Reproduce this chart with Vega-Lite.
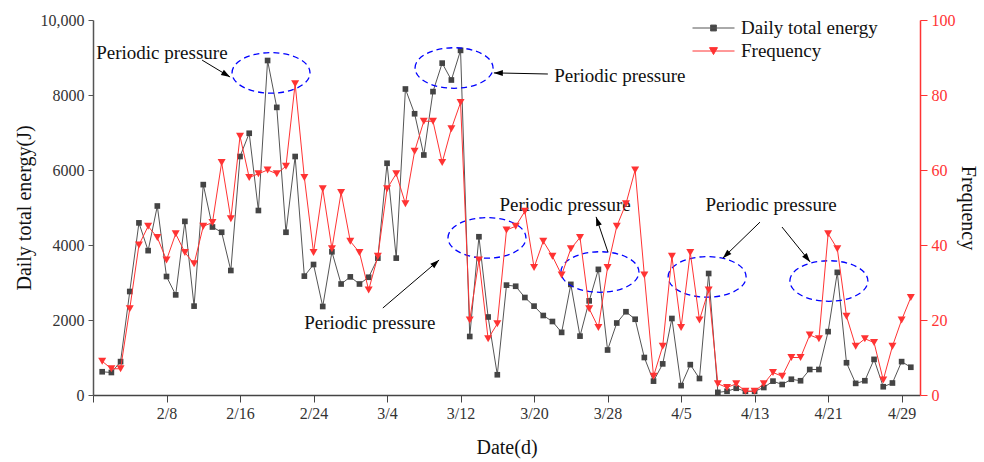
{
"$schema":"https://vega.github.io/schema/vega-lite/v6.json",
"width":827,"height":375,
"autosize":"none",
"padding":{"left":93,"top":20,"right":64,"bottom":67},
"background":"white",
"config":{"view":{"stroke":null},"font":"Liberation Serif",
 "axis":{"grid":false,"labelFont":"Liberation Serif","titleFont":"Liberation Serif","titleFontWeight":"normal","labelFontSize":16,"titleFontSize":20,"labelOverlap":false},
 "legend":{"labelFont":"Liberation Serif","orient":"none","legendX":599,"legendY":-3.5,"title":null,"padding":0,"labelFontSize":19,"labelColor":"#111111","symbolSize":1764,"clipHeight":23,"rowPadding":0,"labelOffset":6,"symbolStrokeWidth":1}},
"datasets":{
"main":[
{"d":"2021-02-01T00:00:00","e":620,"f":9},{"d":"2021-02-02T00:00:00","e":600,"f":7},{"d":"2021-02-03T00:00:00","e":890,"f":7},{"d":"2021-02-04T00:00:00","e":2760,"f":23},{"d":"2021-02-05T00:00:00","e":4590,"f":40},{"d":"2021-02-06T00:00:00","e":3850,"f":45},{"d":"2021-02-07T00:00:00","e":5040,"f":42},{"d":"2021-02-08T00:00:00","e":3160,"f":36},{"d":"2021-02-09T00:00:00","e":2670,"f":43},{"d":"2021-02-10T00:00:00","e":4630,"f":38},{"d":"2021-02-11T00:00:00","e":2370,"f":35},{"d":"2021-02-12T00:00:00","e":5610,"f":45},{"d":"2021-02-13T00:00:00","e":4480,"f":46},{"d":"2021-02-14T00:00:00","e":4340,"f":62},{"d":"2021-02-15T00:00:00","e":3320,"f":47},{"d":"2021-02-16T00:00:00","e":6360,"f":69},{"d":"2021-02-17T00:00:00","e":6980,"f":58},{"d":"2021-02-18T00:00:00","e":4920,"f":59},{"d":"2021-02-19T00:00:00","e":8920,"f":60},{"d":"2021-02-20T00:00:00","e":7670,"f":59},{"d":"2021-02-21T00:00:00","e":4340,"f":61},{"d":"2021-02-22T00:00:00","e":6360,"f":83},{"d":"2021-02-23T00:00:00","e":3170,"f":58},{"d":"2021-02-24T00:00:00","e":3480,"f":38},{"d":"2021-02-25T00:00:00","e":2360,"f":55},{"d":"2021-02-26T00:00:00","e":3820,"f":39},{"d":"2021-02-27T00:00:00","e":2960,"f":54},{"d":"2021-02-28T00:00:00","e":3150,"f":41},
{"d":"2021-03-01T00:00:00","e":2960,"f":38},{"d":"2021-03-02T00:00:00","e":3140,"f":28},{"d":"2021-03-03T00:00:00","e":3650,"f":37},{"d":"2021-03-04T00:00:00","e":6180,"f":55},{"d":"2021-03-05T00:00:00","e":3650,"f":59},{"d":"2021-03-06T00:00:00","e":8160,"f":51},{"d":"2021-03-07T00:00:00","e":7500,"f":65},{"d":"2021-03-08T00:00:00","e":6400,"f":73},{"d":"2021-03-09T00:00:00","e":8090,"f":73},{"d":"2021-03-10T00:00:00","e":8850,"f":62},{"d":"2021-03-11T00:00:00","e":8400,"f":71},{"d":"2021-03-12T00:00:00","e":9190,"f":78},{"d":"2021-03-13T00:00:00","e":1560,"f":20},{"d":"2021-03-14T00:00:00","e":4220,"f":36},{"d":"2021-03-15T00:00:00","e":2080,"f":15},{"d":"2021-03-16T00:00:00","e":540,"f":19},{"d":"2021-03-17T00:00:00","e":2930,"f":44},{"d":"2021-03-18T00:00:00","e":2900,"f":45},{"d":"2021-03-19T00:00:00","e":2600,"f":49},{"d":"2021-03-20T00:00:00","e":2370,"f":34},{"d":"2021-03-21T00:00:00","e":2120,"f":41},{"d":"2021-03-22T00:00:00","e":1960,"f":37},{"d":"2021-03-23T00:00:00","e":1670,"f":32},{"d":"2021-03-24T00:00:00","e":2950,"f":39},{"d":"2021-03-25T00:00:00","e":1570,"f":42},{"d":"2021-03-26T00:00:00","e":2510,"f":23},{"d":"2021-03-27T00:00:00","e":3350,"f":18},{"d":"2021-03-28T00:00:00","e":1200,"f":34},{"d":"2021-03-29T00:00:00","e":1920,"f":45},{"d":"2021-03-30T00:00:00","e":2220,"f":51},{"d":"2021-03-31T00:00:00","e":2020,"f":60},
{"d":"2021-04-01T00:00:00","e":1000,"f":32},{"d":"2021-04-02T00:00:00","e":370,"f":5},{"d":"2021-04-03T00:00:00","e":830,"f":13},{"d":"2021-04-04T00:00:00","e":2040,"f":37},{"d":"2021-04-05T00:00:00","e":250,"f":18},{"d":"2021-04-06T00:00:00","e":810,"f":38},{"d":"2021-04-07T00:00:00","e":440,"f":20},{"d":"2021-04-08T00:00:00","e":3240,"f":28},{"d":"2021-04-09T00:00:00","e":70,"f":3},{"d":"2021-04-10T00:00:00","e":100,"f":2},{"d":"2021-04-11T00:00:00","e":180,"f":3},{"d":"2021-04-12T00:00:00","e":100,"f":1},{"d":"2021-04-13T00:00:00","e":100,"f":1},{"d":"2021-04-14T00:00:00","e":200,"f":3},{"d":"2021-04-15T00:00:00","e":370,"f":6},{"d":"2021-04-16T00:00:00","e":280,"f":5},{"d":"2021-04-17T00:00:00","e":420,"f":10},{"d":"2021-04-18T00:00:00","e":380,"f":10},{"d":"2021-04-19T00:00:00","e":680,"f":16},{"d":"2021-04-20T00:00:00","e":680,"f":15},{"d":"2021-04-21T00:00:00","e":1690,"f":43},{"d":"2021-04-22T00:00:00","e":3270,"f":39},{"d":"2021-04-23T00:00:00","e":860,"f":21},{"d":"2021-04-24T00:00:00","e":310,"f":13},{"d":"2021-04-25T00:00:00","e":380,"f":15},{"d":"2021-04-26T00:00:00","e":950,"f":14},{"d":"2021-04-27T00:00:00","e":220,"f":4},{"d":"2021-04-28T00:00:00","e":320,"f":13},{"d":"2021-04-29T00:00:00","e":890,"f":20},{"d":"2021-04-30T00:00:00","e":740,"f":26}
],
"ellipses":[
{"d":"2021-02-19T09:00:00","e":8590},{"d":"2021-03-11T07:00:00","e":8720},{"d":"2021-03-14T21:00:00","e":4190},{"d":"2021-03-27T04:00:00","e":3280},{"d":"2021-04-07T20:00:00","e":3150},{"d":"2021-04-21T02:00:00","e":3040}
],
"texts":[
{"d":"2021-02-07T12:00:00","e":9120,"label":"Periodic pressure"},{"d":"2021-03-29T08:00:00","e":8510,"label":"Periodic pressure"},{"d":"2021-03-23T09:00:00","e":5070,"label":"Periodic pressure"},{"d":"2021-03-02T03:00:00","e":1920,"label":"Periodic pressure"},{"d":"2021-04-14T19:00:00","e":5070,"label":"Periodic pressure"}
],
"arrows":[
{"d":"2021-02-11T21:00:00","e":8930,"d2":"2021-02-14T22:00:00","e2":8480,"dir":121},
{"d":"2021-03-21T12:00:00","e":8560,"d2":"2021-03-15T15:00:00","e2":8590,"dir":271},
{"d":"2021-03-03T13:00:00","e":2320,"d2":"2021-03-09T16:00:00","e2":3600,"dir":49},
{"d":"2021-03-28T01:00:00","e":3810,"d2":"2021-03-26T18:00:00","e2":4750,"dir":341},
{"d":"2021-04-13T14:00:00","e":4610,"d2":"2021-04-09T13:00:00","e2":3650,"dir":226},
{"d":"2021-04-15T23:30:00","e":4480,"d2":"2021-04-19T01:00:00","e2":3550,"dir":141}
],
"series":[]
},
"layer":[
{"layer":[
 {"data":{"name":"main"},"mark":{"type":"line","stroke":"#555555","strokeWidth":1},
  "encoding":{
   "x":{"field":"d","type":"temporal","scale":{"domain":[{"year":2021,"month":1,"date":31},{"year":2021,"month":5,"date":1}]},
    "axis":{"title":"Date(d)","values":[{"year":2021,"month":1,"date":31},{"year":2021,"month":2,"date":4},{"year":2021,"month":2,"date":8},{"year":2021,"month":2,"date":12},{"year":2021,"month":2,"date":16},{"year":2021,"month":2,"date":20},{"year":2021,"month":2,"date":24},{"year":2021,"month":2,"date":28},{"year":2021,"month":3,"date":4},{"year":2021,"month":3,"date":8},{"year":2021,"month":3,"date":12},{"year":2021,"month":3,"date":16},{"year":2021,"month":3,"date":20},{"year":2021,"month":3,"date":24},{"year":2021,"month":3,"date":28},{"year":2021,"month":4,"date":1},{"year":2021,"month":4,"date":5},{"year":2021,"month":4,"date":9},{"year":2021,"month":4,"date":13},{"year":2021,"month":4,"date":17},{"year":2021,"month":4,"date":21},{"year":2021,"month":4,"date":25},{"year":2021,"month":4,"date":29}],
     "labelExpr":"(round((datum.value - datetime(2021,0,31))/86400000) % 8 === 0 && round((datum.value - datetime(2021,0,31))/86400000) > 0) ? timeFormat(datum.value, '%-m/%-d') : ''",
     "tickSize":{"condition":{"test":"round((datum.value - datetime(2021,0,31))/86400000) % 8 === 0","value":7},"value":4},
     "domainColor":"#444444","tickColor":"#444444","labelColor":"#333333","titleColor":"#111111","labelPadding":3,"titlePadding":16,"domainWidth":1.5,"tickWidth":1}},
   "y":{"field":"e","type":"quantitative","scale":{"domain":[0,10000],"nice":false},
    "axis":{"title":"Daily total energy(J)","values":[0,1000,2000,3000,4000,5000,6000,7000,8000,9000,10000],
     "labelExpr":"datum.value % 2000 === 0 ? (datum.value === 10000 ? '10,000' : format(datum.value, 'd')) : ''",
     "tickSize":{"condition":{"test":"datum.value % 2000 === 0","value":5},"value":3},
     "domainColor":"#555555","tickColor":"#555555","labelColor":"#333333","titleColor":"#111111","labelPadding":4,"titlePadding":6,"domainWidth":1.5}}}},
 {"data":{"name":"main"},"mark":{"type":"point","shape":"square","filled":true,"fill":"#444444","size":32,"opacity":1},
  "encoding":{"x":{"field":"d","type":"temporal"},"y":{"field":"e","type":"quantitative"}}},
 {"data":{"name":"ellipses"},"mark":{"type":"point","shape":"M-1,0C-1,-0.29,-0.55,-0.52,0,-0.52C0.55,-0.52,1,-0.29,1,0C1,0.29,0.55,0.52,0,0.52C-0.55,0.52,-1,0.29,-1,0Z","size":6084,"filled":false,"stroke":"#0000ff","strokeWidth":1.3,"strokeDash":[6,4],"opacity":1},
  "encoding":{"x":{"field":"d","type":"temporal"},"y":{"field":"e","type":"quantitative"}}},
 {"data":{"name":"arrows"},"mark":{"type":"rule","stroke":"#000000","strokeWidth":1},
  "encoding":{"x":{"field":"d","type":"temporal"},"y":{"field":"e","type":"quantitative"},"x2":{"field":"d2"},"y2":{"field":"e2"}}},
 {"data":{"name":"arrows"},"mark":{"type":"point","shape":"M0,0L-0.33,1L0.33,1Z","size":324,"filled":true,"fill":"#000000","opacity":1},
  "encoding":{"x":{"field":"d2","type":"temporal"},"y":{"field":"e2","type":"quantitative"},"angle":{"field":"dir","type":"quantitative","scale":null}}},
 {"data":{"name":"texts"},"mark":{"type":"text","fontSize":19,"color":"#111111","font":"Liberation Serif"},
  "encoding":{"x":{"field":"d","type":"temporal"},"y":{"field":"e","type":"quantitative"},"text":{"field":"label"}}}
]},
{"layer":[
 {"data":{"name":"main"},"mark":{"type":"line","stroke":"#ff3333","strokeWidth":1},
  "encoding":{"x":{"field":"d","type":"temporal"},
   "y":{"field":"f","type":"quantitative","scale":{"domain":[0,100],"nice":false},
    "axis":{"orient":"right","title":"Frequency","values":[0,10,20,30,40,50,60,70,80,90,100],
     "labelExpr":"datum.value % 20 === 0 ? datum.label : ''",
     "tickSize":{"condition":{"test":"datum.value % 20 === 0","value":7},"value":4},
     "domainColor":"#ff3333","tickColor":"#ff3333","labelColor":"#ff3333","titleColor":"#111111","labelPadding":4,"titlePadding":2,"domainWidth":1.5,"tickWidth":1}}}},
 {"data":{"name":"main"},"mark":{"type":"point","shape":"triangle-down","filled":true,"fill":"#ff3333","size":64,"opacity":1},
  "encoding":{"x":{"field":"d","type":"temporal"},"y":{"field":"f","type":"quantitative"}}}
]},
{"data":{"name":"series"},"mark":{"type":"point","filled":true,"opacity":1,"strokeWidth":1},
 "encoding":{
  "color":{"datum":"Daily total energy","scale":{"domain":["Daily total energy","Frequency"],"range":["#444444","#ff3333"]}},
  "shape":{"datum":"Daily total energy","scale":{"domain":["Daily total energy","Frequency"],"range":["M-1,0L1,0M-0.14,-0.14L0.14,-0.14L0.14,0.14L-0.14,0.14Z","M-1,0L1,0M-0.19,-0.16L0.19,-0.16L0,0.17Z"]}},
  "stroke":{"datum":"Daily total energy","scale":{"domain":["Daily total energy","Frequency"],"range":["#555555","#ff3333"]}}}}
],
"resolve":{"scale":{"y":"independent"}}
}
